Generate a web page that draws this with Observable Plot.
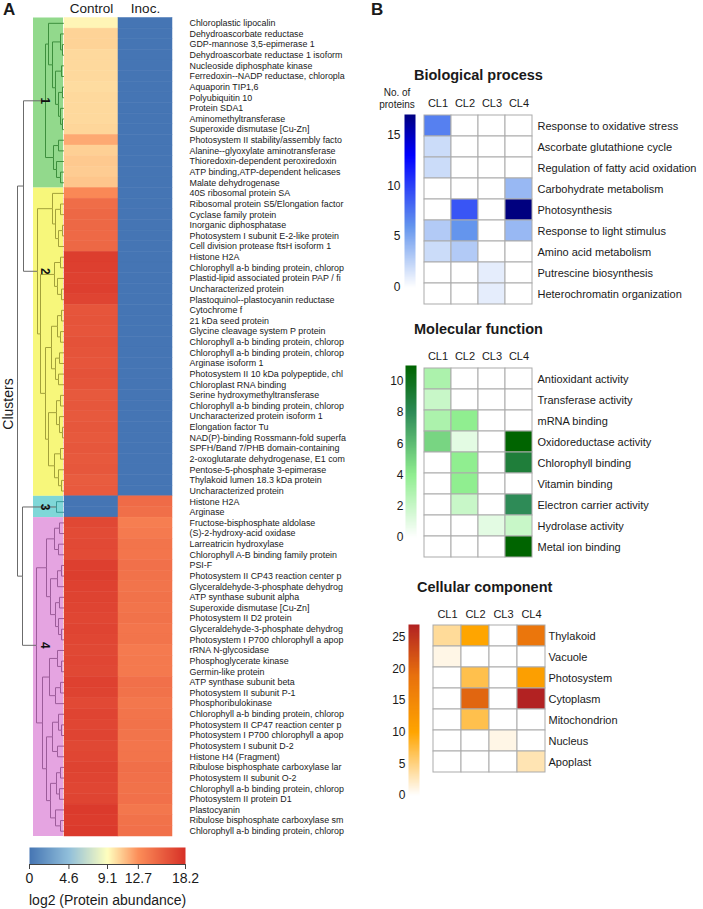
<!DOCTYPE html>
<html><head><meta charset="utf-8">
<script src="https://cdn.jsdelivr.net/npm/d3@7"></script>
<script src="https://cdn.jsdelivr.net/npm/@observablehq/plot@0.6"></script>
<style>
body{margin:0;background:#fff;}
#root{position:relative;width:703px;height:909px;overflow:hidden;font-family:"Liberation Sans",Arial,sans-serif;color:#1a1a1a;}
#root > *{position:absolute;}
.t{white-space:nowrap;}
</style></head><body><div id="root"></div>
<script>
// ---------------- Panel A data ----------------
const proteins = [
"Chloroplastic lipocalin","Dehydroascorbate reductase","GDP-mannose 3,5-epimerase 1","Dehydroascorbate reductase 1 isoform",
"Nucleoside diphosphate kinase","Ferredoxin--NADP reductase, chloropla","Aquaporin TIP1,6","Polyubiquitin 10","Protein SDA1",
"Aminomethyltransferase","Superoxide dismutase [Cu-Zn]","Photosystem II stability/assembly facto","Alanine--glyoxylate aminotransferase",
"Thioredoxin-dependent peroxiredoxin","ATP binding,ATP-dependent helicases","Malate dehydrogenase",
"40S ribosomal protein SA","Ribosomal protein S5/Elongation factor","Cyclase family protein","Inorganic diphosphatase",
"Photosystem I subunit E-2-like protein","Cell division protease ftsH isoform 1","Histone H2A","Chlorophyll a-b binding protein, chlorop",
"Plastid-lipid associated protein PAP / fi","Uncharacterized protein","Plastoquinol--plastocyanin reductase","Cytochrome f",
"21 kDa seed protein","Glycine cleavage system P protein","Chlorophyll a-b binding protein, chlorop","Chlorophyll a-b binding protein, chlorop",
"Arginase isoform 1","Photosystem II 10 kDa polypeptide, chl","Chloroplast RNA binding","Serine hydroxymethyltransferase",
"Chlorophyll a-b binding protein, chlorop","Uncharacterized protein isoform 1","Elongation factor Tu","NAD(P)-binding Rossmann-fold superfa",
"SPFH/Band 7/PHB domain-containing","2-oxoglutarate dehydrogenase, E1 com","Pentose-5-phosphate 3-epimerase","Thylakoid lumen 18.3 kDa protein",
"Uncharacterized protein",
"Histone H2A","Arginase",
"Fructose-bisphosphate aldolase","(S)-2-hydroxy-acid oxidase","Larreatricin hydroxylase","Chlorophyll A-B binding family protein",
"PSI-F","Photosystem II CP43 reaction center p","Glyceraldehyde-3-phosphate dehydrog","ATP synthase subunit alpha",
"Superoxide dismutase [Cu-Zn]","Photosystem II D2 protein","Glyceraldehyde-3-phosphate dehydrog","Photosystem I P700 chlorophyll a apop",
"rRNA N-glycosidase","Phosphoglycerate kinase","Germin-like protein","ATP synthase subunit beta","Photosystem II subunit P-1",
"Phosphoribulokinase","Chlorophyll a-b binding protein, chlorop","Photosystem II CP47 reaction center p","Photosystem I P700 chlorophyll a apop",
"Photosystem I subunit D-2","Histone H4 (Fragment)","Ribulose bisphosphate carboxylase lar","Photosystem II subunit O-2",
"Chlorophyll a-b binding protein, chlorop","Photosystem II protein D1","Plastocyanin","Ribulose bisphosphate carboxylase sm",
"Chlorophyll a-b binding protein, chlorop"
];
const conditions = ["Control", "Inoc."];
const controlLog2 = [
9.4,10.5,10.5,10.3,10.3,10.3,10.2,10.3,10.3,10.3,10.4,11.8,10.6,10.8,10.7,10.9,
13.0,14.6,14.9,14.9,14.8,14.9,17.4,17.3,17.2,17.3,17.0,16.0,16.1,16.0,16.2,16.1,16.0,16.2,16.1,
15.8,15.9,15.8,15.9,15.8,15.9,15.8,15.9,15.6,15.7,
0,0,
16.8,16.6,16.7,16.6,17.3,17.4,17.2,17.1,17.0,16.9,17.0,16.9,16.8,16.9,16.8,17.2,17.1,16.7,17.0,16.9,17.0,16.8,16.9,17.1,17.0,16.9,17.0,17.6,17.5,17.6
];
const inocLog2 = [
0,0,0,0,0,0,0,0,0,0,0,0,0,0,0,0,
0,0,0,0,0,0,0,0,0,0,0,0,0,0,0,0,0,0,0,0,0,0,0,0,0,0,0,0,0,
14.7,14.5,
13.6,13.8,14.2,14.1,14.4,14.3,14.2,14.3,14.2,14.3,14.1,14.2,13.8,13.9,13.9,14.4,14.3,14.0,14.2,14.3,14.2,14.1,14.2,14.5,14.4,14.3,14.4,14.0,14.3,14.4
];
const abundanceTicks = [0, 4.6, 9.1, 12.7, 18.2];
const abundanceColors = ["#4575b4", "#91bfdb", "#ffffbf", "#fc8d59", "#d73027"];

const clusterIds = [1, 2, 3, 4];
const clusterFirstRow = [1, 17, 46, 48];
const clusterLastRow = [16, 45, 47, 77];
const clusterBoxColors = ["#92d98c", "#f7f77b", "#7fd7d8", "#e5a4e1"];
const dendroLineColors = ["#6b6b6b", "#3d8f3d", "#a3a13a", "#3a9a9a", "#9c5c9a"];

// dendrogram: [mergeHeight, left, right]; leaves = row numbers
const dendroC1 = [19, [16, 1, [12, [4, 2, [2, 3, 4]], [9, [3, 5, 6], [6, [2, 7, 8], [4, 9, [2, 10, 11]]]]]], [11, [6, 12, 13], [8, 14, [4, 15, 16]]]];
const dendroC2 = [27,
  [12, 17, [9, [4, 18, 19], [6, [2, 20, 21], 22]]],
  [24, [10, [4, 23, 24], [7, 25, [3, 26, 27]]],
       [19, [13, [7, [3, 28, 29], [4, 30, 31]], [9, [5, 32, 33], [6, 34, 35]]],
            [16, [8, [4, 36, 37], [5, 38, [2, 39, 40]]], [10, [4, 41, 42], [6, 43, [3, 44, 45]]]]]]];
const dendroC3 = [8, 46, 47];
const dendroC4 = [28,
  [18, [10, [5, 48, 49], [6, 50, 51]], [14, [7, [3, 52, 53], 54], [9, [5, 55, 56], [6, 57, [3, 58, 59]]]]],
  [22, [15, [7, 60, [3, 61, 62]], [9, [4, 63, 64], 65]], [18, [12, [6, 66, [3, 67, 68]], [7, 69, 70]], [14, [8, [4, 71, 72], [5, 73, 74]], [9, 75, [4, 76, 77]]]]]];
const dendroTop = [47, [41, "C1", "C2"], [42, "C3", "C4"]];

// ---------------- Panel B data ----------------
const clusterCols = ["CL1", "CL2", "CL3", "CL4"];
const bpTerms = ["Response to oxidative stress","Ascorbate glutathione cycle","Regulation of fatty acid oxidation","Carbohydrate metabolism","Photosynthesis","Response to light stimulus","Amino acid metabolism","Putrescine biosynthesis","Heterochromatin organization"];
const bpCL1 = [7, 2, 2, 0, 0, 3, 2, 0, 0];
const bpCL2 = [0, 0, 0, 0, 9, 6, 3, 0, 0];
const bpCL3 = [0, 0, 0, 0, 0, 0, 0, 1, 1];
const bpCL4 = [0, 0, 0, 4, 17, 4, 0, 0, 0];
const bpTicks = [0, 5, 10, 15];
const bpStops = [0, 6, 13, 17];
const bpColors = ["#ffffff", "#6495ed", "#0000ff", "#00007f"];

const mfTerms = ["Antioxidant activity","Transferase activity","mRNA binding","Oxidoreductase activity","Chlorophyll binding","Vitamin binding","Electron carrier activity","Hydrolase activity","Metal ion binding"];
const mfCL1 = [3, 2, 3, 5, 0, 0, 0, 0, 0];
const mfCL2 = [0, 0, 4, 1, 4, 4, 2, 0, 0];
const mfCL3 = [0, 0, 0, 0, 0, 0, 0, 1, 0];
const mfCL4 = [0, 0, 0, 11, 9, 0, 8, 2, 11];
const mfTicks = [0, 2, 4, 6, 8, 10];
const mfStops = [0, 4, 8, 11];
const mfColors = ["#ffffff", "#90ee90", "#2e8b57", "#006400"];

const ccTerms = ["Thylakoid","Vacuole","Photosystem","Cytoplasm","Mitochondrion","Nucleus","Apoplast"];
const ccCL1 = [4, 1, 0, 0, 0, 0, 0];
const ccCL2 = [10, 0, 7, 20, 7, 0, 0];
const ccCL3 = [0, 0, 0, 0, 0, 1, 0];
const ccCL4 = [18, 0, 11, 27, 0, 0, 3];
const ccTicks = [0, 5, 10, 15, 20, 25];
const ccStops = [0, 10, 19, 27];
const ccColors = ["#ffffff", "#ffa500", "#e8700d", "#b22222"];

// ---------------- drawing ----------------
const root = document.getElementById("root");
const FONT = "Liberation Sans, Arial, sans-serif";
const base = {fontFamily: FONT, background: "none", overflow: "visible", color: "#1a1a1a"};
function place(el, left, top) { el.style.position = "absolute"; el.style.left = left + "px"; el.style.top = top + "px"; root.appendChild(el); return el; }
function label(text, left, top, css) {
  const d = document.createElement("div"); d.className = "t"; d.textContent = text;
  Object.assign(d.style, css || {}); return place(d, left, top);
}

// dendrogram layout
const clusterTrees = [dendroC1, dendroC2, dendroC3, dendroC4];
const links = [], clusterNodes = {};
function lay(node, cl) {
  if (typeof node === "number") return {h: 0, y: node};
  if (typeof node === "string") { const k = +node.slice(1); const n = lay(clusterTrees[k - 1], k); clusterNodes[k] = n; return n; }
  const [h, a, b] = node;
  const A = lay(a, cl), B = lay(b, cl);
  const p = {h, y: (A.y + B.y) / 2};
  for (const c of [A, B]) links.push({x1: h, y1: p.y, x2: c.h, y2: c.y, cl});
  return p;
}
lay(dendroTop, 0);

const H = 845, MT = 17.5, MB = 9;
const boxes = clusterIds.map((k, i) => ({k, y1: clusterFirstRow[i] - 0.5, y2: clusterLastRow[i] + 0.5}));
const dendro = Plot.plot({
  width: 64, height: H, marginTop: MT, marginBottom: MB, marginLeft: 0, marginRight: 0,
  x: {domain: [64, 0], axis: null}, y: {domain: [proteins.length + 0.5, 0.5], axis: null},
  color: {type: "ordinal", domain: clusterIds, range: clusterBoxColors},
  style: base,
  marks: [
    Plot.rect(boxes, {x1: 31, x2: 1, y1: "y1", y2: "y2", fill: "k"}),
    ...[0, 1, 2, 3, 4].map(k => Plot.link(links.filter(d => d.cl === k), {x1: "x1", y1: "y1", x2: "x2", y2: "y2", stroke: dendroLineColors[k], strokeWidth: 1, curve: "step-before"})),
    Plot.text(clusterIds.map(k => ({k, y: clusterNodes[k].y})), {x: 20, y: "y", text: d => String(d.k), rotate: 90, fontWeight: "bold", fontSize: 12, fill: "#111"})
  ]
});
place(dendro, 0, 0);

const cellsA = proteins.flatMap((p, i) => [
  {row: i + 1, cond: conditions[0], v: controlLog2[i]},
  {row: i + 1, cond: conditions[1], v: inocLog2[i]}
]);
const heatA = Plot.plot({
  width: 290, height: H, marginTop: MT, marginBottom: MB, marginLeft: 0, marginRight: 182,
  x: {domain: conditions, padding: 0},
  y: {domain: d3.range(1, proteins.length + 1), padding: 0},
  color: {type: "linear", domain: abundanceTicks, range: abundanceColors, clamp: true},
  style: base,
  marks: [
    Plot.cell(cellsA, {x: "cond", y: "row", fill: "v", stroke: "v", strokeWidth: 0.5, inset: 0}),
    Plot.axisX({anchor: "top", tickSize: 0, tickPadding: 5, fontSize: 13.5, label: null}),
    Plot.axisY({anchor: "right", tickSize: 0, tickPadding: 17, fontSize: 8.9, label: null, tickFormat: i => proteins[i - 1]})
  ]
});
place(heatA, 64, 0);

// colour bar A
const barA = Plot.plot({
  width: 200, height: 45, marginTop: 0, marginBottom: 28, marginLeft: 29, marginRight: 15,
  x: {domain: [0, 18.2]}, y: {domain: [0, 1], axis: null},
  color: {type: "linear", domain: abundanceTicks, range: abundanceColors, clamp: true},
  style: base,
  marks: [
    Plot.raster({fill: (x, y) => x, x1: 0, x2: 18.2, y1: 0, y2: 1, width: 156, height: 1}),
    Plot.ruleY([0], {stroke: "#444"}),
    Plot.axisX({ticks: abundanceTicks, tickSize: 5, tickPadding: 4, fontSize: 14, label: null, tickFormat: d => String(d), stroke: "#444"})
  ]
});
place(barA, 0, 847);
label("log2 (Protein abundance)", 29, 892, {fontSize: "14px", lineHeight: "16px"});
label("A", 3, 1, {fontSize: "17px", fontWeight: "bold", lineHeight: "18px"});
label("Clusters", -42, 396, {fontSize: "14px", lineHeight: "16px", width: "100px", textAlign: "center", transform: "rotate(-90deg)"});

// Panel B
label("B", 371, 1, {fontSize: "17px", fontWeight: "bold", lineHeight: "18px"});

function termHeat(terms, cols, values, stops, colors, o) {
  const data = terms.flatMap((t, i) => cols.map((c, j) => ({t, c, v: values[j][i]})));
  return Plot.plot({
    width: o.width, height: o.height, marginTop: o.mt, marginBottom: 2, marginLeft: 2, marginRight: o.mr,
    x: {domain: cols, padding: 0}, y: {domain: terms, padding: 0},
    color: {type: "linear", domain: stops, range: colors, clamp: true},
    style: base,
    marks: [
      Plot.cell(data, {x: "c", y: "t", fill: "v", stroke: "#ababab", strokeWidth: 1, inset: 0}),
      Plot.axisX({anchor: "top", tickSize: 0, tickPadding: o.xpad, fontSize: 11, label: null}),
      Plot.axisY({anchor: "right", tickSize: 0, tickPadding: o.ypad, fontSize: 11, label: null})
    ]
  });
}
function colorbar(max, stops, colors, ticks, o) {
  return Plot.plot({
    width: o.ml + 11, height: o.height, marginTop: o.mt, marginBottom: o.mb, marginLeft: o.ml, marginRight: 0,
    x: {domain: [0, 1], axis: null}, y: {domain: [0, max]},
    color: {type: "linear", domain: stops, range: colors, clamp: true},
    style: base,
    marks: [
      Plot.raster({fill: (x, y) => y, x1: 0, x2: 1, y1: 0, y2: max, width: 1, height: 200}),
      Plot.axisY({ticks, tickSize: 0, tickPadding: o.pad, fontSize: 12, label: null})
    ]
  });
}

// Biological process
label("Biological process", 414, 66, {fontSize: "14.5px", fontWeight: "bold", lineHeight: "18px"});
label("No. of", 367, 87, {fontSize: "10px", lineHeight: "12px", width: "60px", textAlign: "center"});
label("proteins", 367, 99, {fontSize: "10px", lineHeight: "12px", width: "60px", textAlign: "center"});
place(termHeat(bpTerms, clusterCols, [bpCL1, bpCL2, bpCL3, bpCL4], bpStops, bpColors,
  {width: 281, height: 220, mt: 22, mr: 168, xpad: 5, ypad: 4}), 420, 89);
place(colorbar(17, bpStops, bpColors, bpTicks, {height: 195, mt: 14, mb: 8, ml: 34, pad: 4}), 370, 100);

// Molecular function
label("Molecular function", 414, 320, {fontSize: "14.5px", fontWeight: "bold", lineHeight: "18px"});
place(termHeat(mfTerms, clusterCols, [mfCL1, mfCL2, mfCL3, mfCL4], mfStops, mfColors,
  {width: 281, height: 220, mt: 21, mr: 168, xpad: 5, ypad: 4}), 420, 343);
place(colorbar(11, mfStops, mfColors, mfTicks, {height: 190, mt: 10, mb: 8, ml: 35, pad: 2}), 370, 355);

// Cellular component
label("Cellular component", 417, 578, {fontSize: "14.5px", fontWeight: "bold", lineHeight: "18px"});
place(termHeat(ccTerms, clusterCols, [ccCL1, ccCL2, ccCL3, ccCL4], ccStops, ccColors,
  {width: 264, height: 176, mt: 23, mr: 150, xpad: 6, ypad: 3}), 431, 600);
place(colorbar(27, ccStops, ccColors, ccTicks, {height: 190, mt: 11, mb: 8, ml: 38, pad: 3}), 370, 613);
</script>
</body></html>
